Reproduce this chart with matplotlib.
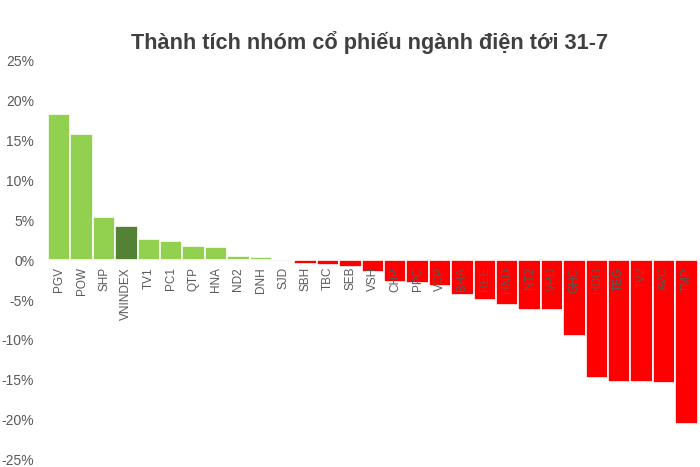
import matplotlib
matplotlib.use("Agg")
import matplotlib.pyplot as plt
from matplotlib.ticker import FuncFormatter

categories = ["PGV", "POW", "SHP", "VNINDEX", "TV1", "PC1", "QTP", "HNA", "ND2", "DNH",
              "SJD", "SBH", "TBC", "SEB", "VSH", "CHP", "PPC", "VCP", "BHA", "REE",
              "HND", "NT2", "VPD", "GHC", "HDG", "TEG", "TV2", "AVC", "TMP"]
values = [18.3, 15.8, 5.4, 4.2, 2.6, 2.4, 1.8, 1.6, 0.5, 0.33,
          0.0, -0.5, -0.6, -0.9, -1.5, -2.8, -2.9, -3.3, -4.4, -5.0,
          -5.6, -6.2, -6.2, -9.5, -14.8, -15.2, -15.3, -15.4, -20.5]
yticks = [25, 20, 15, 10, 5, 0, -5, -10, -15, -20, -25]

plt.rcParams['font.family'] = ['Liberation Sans', 'DejaVu Sans']

fig = plt.figure(figsize=(7, 4.67), dpi=100)
ax = fig.add_axes([0.0686, 0.015, 0.928, 0.8565])

colors = []
for c, v in zip(categories, values):
    if c == "VNINDEX":
        colors.append("#548235")
    elif v >= 0:
        colors.append("#92D050")
    else:
        colors.append("#FF0000")

x = list(range(len(categories)))
ax.bar(x, values, width=1.0, color=colors, edgecolor="white", linewidth=1.2, zorder=2)
ax.axhline(0, color="#D9D9D9", linewidth=0.8, zorder=1)

ax.set_xlim(-0.5, len(categories) - 0.5)
ax.set_ylim(-25, 25)
ax.set_yticks(yticks)
ax.yaxis.set_major_formatter(FuncFormatter(lambda v, p: f"{int(v)}%"))
ax.tick_params(axis="y", length=0, labelsize=10, labelcolor="#595959", pad=10)
ax.set_xticks([])
for s in ax.spines.values():
    s.set_visible(False)

for xi, c in zip(x, categories):
    ax.annotate(c, xy=(xi, 0), xytext=(0, -5), textcoords="offset points",
                rotation=90, ha="center", va="top", fontsize=8.5,
                color="#595959", zorder=3)

fig.text(0.528, 0.91, "Thành tích nhóm cổ phiếu ngành điện tới 31-7",
         ha="center", va="center", fontsize=15.7, fontweight="bold", color="#404040")

fig.savefig("out.png", dpi=100)
